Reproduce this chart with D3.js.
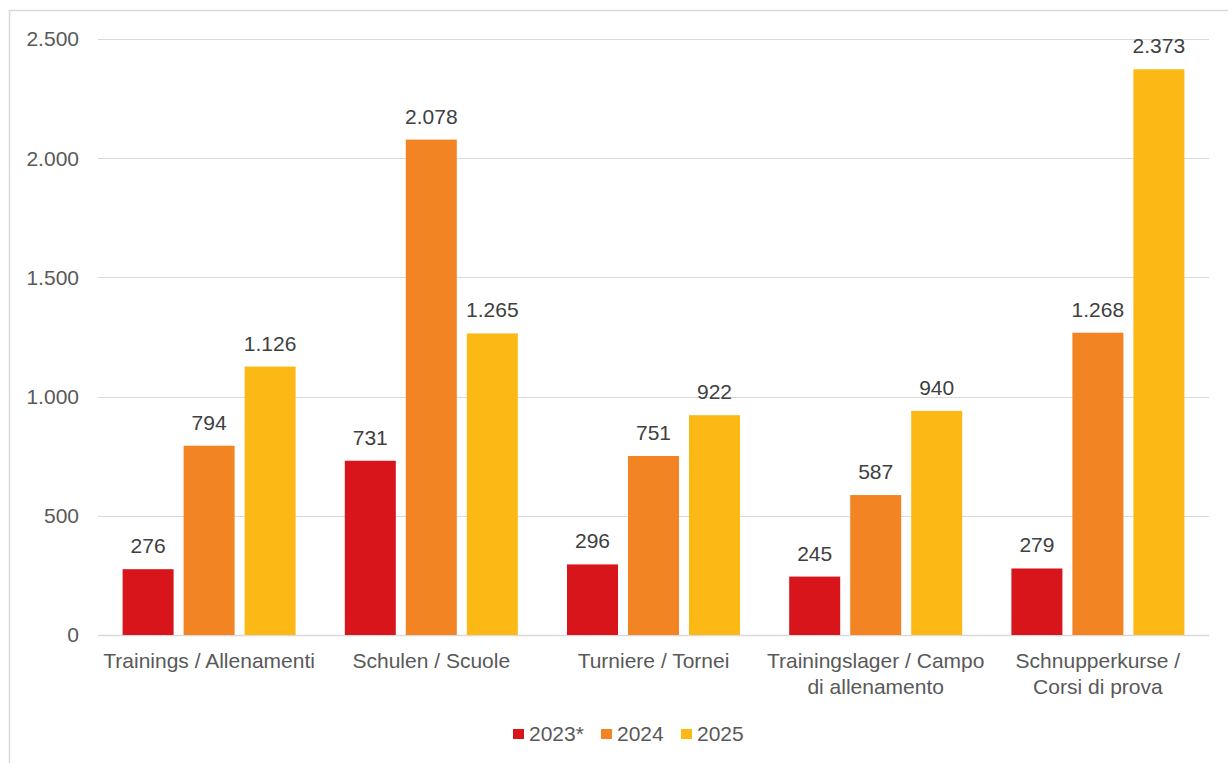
<!DOCTYPE html>
<html>
<head>
<meta charset="utf-8">
<script src="https://cdn.jsdelivr.net/npm/d3@7"></script>
<style>
  body { margin: 0; background: #fff; }
  text { font-family: "Liberation Sans", Arial, sans-serif; }
</style>
</head>
<body>
<div id="chart"></div>
<script>
var categories = [
    ["Trainings / Allenamenti"],
    ["Schulen / Scuole"],
    ["Turniere / Tornei"],
    ["Trainingslager / Campo", "di allenamento"],
    ["Schnupperkurse /", "Corsi di prova"]
];
var seriesNames = ["2023*", "2024", "2025"];
var values2023 = [276, 731, 296, 245, 279];
var values2024 = [794, 2078, 751, 587, 1268];
var values2025 = [1126, 1265, 922, 940, 2373];
var yTicks = [0, 500, 1000, 1500, 2000, 2500];
var colors = ["#d7151a", "#f38423", "#fcb814"];

var W = 1228, H = 763;
var margin = {top: 39, right: 19, bottom: 128, left: 98},
    width = W - margin.left - margin.right,
    height = H - margin.top - margin.bottom;

var fmt = d3.formatLocale({decimal: ",", thousands: ".", grouping: [3], currency: ["", ""]}).format(",d");

var svg = d3.select("#chart").append("svg")
    .attr("width", W)
    .attr("height", H);

// outer frame
svg.append("rect")
    .attr("x", 9.5).attr("y", 10.5)
    .attr("width", W).attr("height", H)
    .attr("fill", "none")
    .attr("stroke", "#d9d9d9")
    .attr("stroke-width", 1.5);

var g = svg.append("g")
    .attr("transform", "translate(" + margin.left + "," + margin.top + ")");

var x0 = d3.scaleBand()
    .domain(d3.range(categories.length))
    .range([0, width]);

// three bars of 51px with 10px gaps, centred in each group
var x1 = d3.scaleBand()
    .domain(d3.range(seriesNames.length))
    .range([x0.bandwidth() / 2 - 86.5, x0.bandwidth() / 2 + 86.5])
    .paddingInner(10 / 61);

var y = d3.scaleLinear()
    .domain([0, 2500])
    .range([height, 0]);

// gridlines
g.append("g")
    .selectAll("line")
    .data(yTicks)
    .join("line")
    .attr("x1", 0).attr("x2", width)
    .attr("y1", function (d) { return Math.round(y(d)) + 0.5; })
    .attr("y2", function (d) { return Math.round(y(d)) + 0.5; })
    .attr("stroke", "#d9d9d9")
    .attr("stroke-width", function (d) { return d === 0 ? 1.5 : 1; });

// y tick labels
g.append("g")
    .selectAll("text")
    .data(yTicks)
    .join("text")
    .attr("x", -19)
    .attr("y", function (d) { return y(d); })
    .attr("dy", "0.35em")
    .attr("text-anchor", "end")
    .attr("font-size", 21)
    .attr("fill", "#595959")
    .text(function (d) { return fmt(d); });

var series = [values2023, values2024, values2025];
var rows = [];
categories.forEach(function (c, i) {
    series.forEach(function (s, j) {
        rows.push({cat: i, ser: j, value: s[i]});
    });
});

var bars = g.append("g");
bars.selectAll("rect")
    .data(rows)
    .join("rect")
    .attr("x", function (d) { return x0(d.cat) + x1(d.ser); })
    .attr("y", function (d) { return y(d.value); })
    .attr("width", x1.bandwidth())
    .attr("height", function (d) { return height - y(d.value); })
    .attr("fill", function (d) { return colors[d.ser]; });

// value labels
bars.selectAll("text")
    .data(rows)
    .join("text")
    .attr("x", function (d) { return x0(d.cat) + x1(d.ser) + x1.bandwidth() / 2; })
    .attr("y", function (d) { return y(d.value) - 16; })
    .attr("text-anchor", "middle")
    .attr("font-size", 21)
    .attr("fill", "#404040")
    .text(function (d) { return fmt(d.value); });

// category labels
var cl = g.append("g")
    .selectAll("text")
    .data(categories)
    .join("text")
    .attr("x", function (d, i) { return x0(i) + x0.bandwidth() / 2; })
    .attr("y", height + 33)
    .attr("text-anchor", "middle")
    .attr("font-size", 21)
    .attr("fill", "#595959");
cl.selectAll("tspan")
    .data(function (d) { return d; })
    .join("tspan")
    .attr("x", function () { return this.parentNode.getAttribute("x"); })
    .attr("dy", function (d, i) { return i === 0 ? 0 : 26; })
    .text(function (d) { return d; });

// legend
var legendX = [513, 601, 681];
var lg = svg.append("g")
    .selectAll("g")
    .data(seriesNames)
    .join("g")
    .attr("transform", function (d, i) { return "translate(" + legendX[i] + ",734)"; });
lg.append("rect")
    .attr("x", 0).attr("y", -5)
    .attr("width", 11).attr("height", 10)
    .attr("fill", function (d, i) { return colors[i]; });
lg.append("text")
    .attr("x", 16)
    .attr("dy", "0.35em")
    .attr("font-size", 21)
    .attr("fill", "#595959")
    .text(function (d) { return d; });
</script>
</body>
</html>
